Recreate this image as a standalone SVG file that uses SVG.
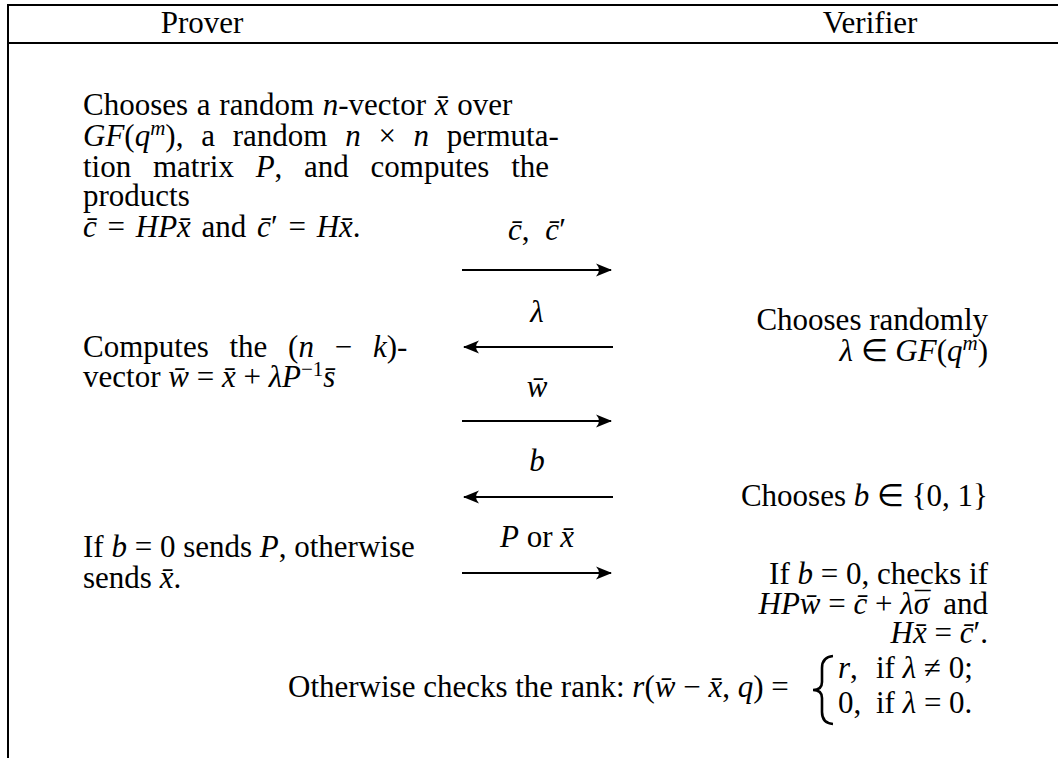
<svg xmlns="http://www.w3.org/2000/svg" width="1058" height="758" viewBox="0 0 1058 758">
<style>
text{font-family:"Liberation Serif","Times New Roman",serif;font-size:31px;fill:#000}
.i{font-style:italic}
.sup{font-size:21px}
.end{text-anchor:end}
.mid{text-anchor:middle}
.rule{stroke:#000;stroke-width:2;fill:none}
.arr{stroke:#000;stroke-width:2;fill:none}
</style>
<defs>
<marker id="ah" markerUnits="userSpaceOnUse" markerWidth="20" markerHeight="16" refX="0" refY="0" viewBox="-17 -8 20 16" orient="auto">
<path d="M1,0 L-15,-6.5 Q-9,0 -15,6.5 Z" fill="#000"/>
</marker>
</defs>

<g id="frame">
<line class="rule" x1="8" y1="5" x2="1058" y2="5"/>
<line class="rule" x1="8" y1="43" x2="1058" y2="43"/>
<line class="rule" x1="8" y1="4" x2="8" y2="758"/>
</g>

<g id="header">
<text class="mid" x="202" y="33">Prover</text>
<text class="mid" x="870" y="33">Verifier</text>
</g>

<g id="prover-step1">
<text x="83" y="115" word-spacing="1">Chooses a random <tspan class="i">n</tspan>-vector <tspan class="i">x̄</tspan> over</text>
<text x="83" y="146" word-spacing="10"><tspan class="i">GF</tspan>(<tspan class="i">q</tspan><tspan class="i sup" dy="-11">m</tspan><tspan dy="11">),</tspan> a random <tspan class="i">n</tspan> × <tspan class="i">n</tspan> permuta-</text>
<text x="83" y="177" word-spacing="14">tion matrix <tspan class="i">P</tspan>, and computes the</text>
<text x="83" y="206">products</text>
<text x="83" y="237" word-spacing="3"><tspan class="i">c̄</tspan> = <tspan class="i">HPx̄</tspan> and <tspan class="i">c̄</tspan>′ = <tspan class="i">Hx̄</tspan>.</text>
</g>

<g id="prover-step2">
<text x="83" y="357" word-spacing="13">Computes the (<tspan class="i">n</tspan> − <tspan class="i">k</tspan>)-</text>
<text x="83" y="387">vector <tspan class="i">w̄</tspan> = <tspan class="i">x̄</tspan> + <tspan class="i">λP</tspan><tspan class="sup" dy="-11">−1</tspan><tspan class="i" dy="11">s̄</tspan></text>
</g>

<g id="prover-step3">
<text x="83" y="557">If <tspan class="i">b</tspan> = 0 sends <tspan class="i">P</tspan>, otherwise</text>
<text x="83" y="588">sends <tspan class="i">x̄</tspan>.</text>
</g>

<g id="verifier-step1">
<text class="end" x="988" y="330">Chooses randomly</text>
<text class="end" x="988" y="361"><tspan class="i">λ</tspan> ∈ <tspan class="i">GF</tspan>(<tspan class="i">q</tspan><tspan class="i sup" dy="-11">m</tspan><tspan dy="11">)</tspan></text>
</g>

<g id="verifier-step2">
<text class="end" x="988" y="506">Chooses <tspan class="i">b</tspan> ∈ {0, 1}</text>
</g>

<g id="verifier-step3">
<text class="end" x="988" y="584">If <tspan class="i">b</tspan> = 0, checks if</text>
<text class="end" x="988" y="614"><tspan class="i">HPw̄</tspan> = <tspan class="i">c̄</tspan> + <tspan class="i">λσ</tspan><tspan dx="-14">¯</tspan><tspan dx="5"> and</tspan></text>
<text class="end" x="988" y="643"><tspan class="i">Hx̄</tspan> = <tspan class="i">c̄</tspan>′.</text>
</g>

<g id="verifier-step4">
<text x="288" y="697">Otherwise checks the rank: <tspan class="i">r</tspan>(<tspan class="i">w̄</tspan> − <tspan class="i">x̄</tspan>, <tspan class="i">q</tspan>) =</text>
<path d="M833,656 Q822,657 822,668 L822,682 Q822,690 813,690 Q822,690 822,698 L822,712 Q822,723 833,724" fill="none" stroke="#000" stroke-width="2.6"/>
<text x="838" y="678"><tspan class="i">r</tspan>,<tspan x="876">if <tspan class="i">λ</tspan> ≠ 0;</tspan></text>
<text x="838" y="713">0,<tspan x="876">if <tspan class="i">λ</tspan> = 0.</tspan></text>
</g>

<g id="connectors">
<line class="arr" x1="462" y1="270" x2="611" y2="270" marker-end="url(#ah)"/>
<line class="arr" x1="613" y1="347" x2="464" y2="347" marker-end="url(#ah)"/>
<line class="arr" x1="462" y1="421" x2="611" y2="421" marker-end="url(#ah)"/>
<line class="arr" x1="613" y1="497" x2="464" y2="497" marker-end="url(#ah)"/>
<line class="arr" x1="462" y1="573" x2="611" y2="573" marker-end="url(#ah)"/>
<text class="mid" x="537" y="240" word-spacing="8"><tspan class="i">c̄</tspan>, <tspan class="i">c̄</tspan>′</text>
<text class="mid i" x="537" y="322">λ</text>
<text class="mid i" x="537" y="397">w̄</text>
<text class="mid i" x="537" y="471">b</text>
<text class="mid" x="537" y="547"><tspan class="i">P</tspan> or <tspan class="i">x̄</tspan></text>
</g>
</svg>
